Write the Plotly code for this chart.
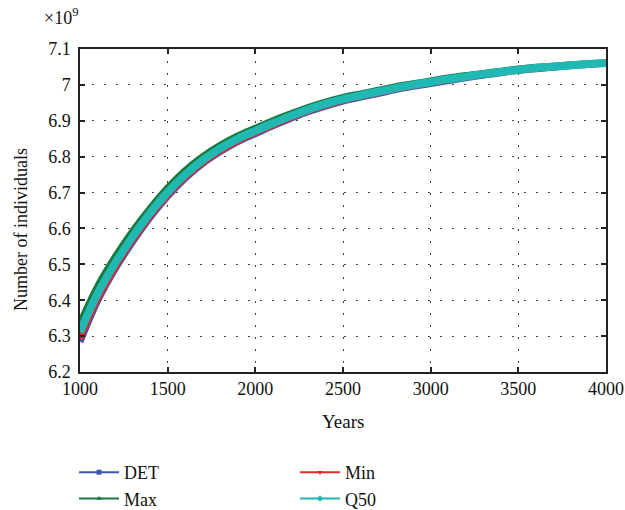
import plotly.graph_objects as go

# Years on the horizontal axis
years = [1000, 1100, 1200, 1300, 1400, 1500, 1600, 1700, 1800, 1900, 2000,
         2100, 2200, 2300, 2400, 2500, 2600, 2700, 2800, 2900, 3000,
         3100, 3200, 3300, 3400, 3500, 3600, 3700, 3800, 3900, 4000]

# Population (in units of 1e9 individuals)
det = [6.284, 6.398, 6.487, 6.563, 6.631, 6.690, 6.740, 6.781, 6.814, 6.842, 6.864,
       6.886, 6.906, 6.925, 6.941, 6.955, 6.966, 6.976, 6.987, 6.996, 7.004,
       7.012, 7.020, 7.027, 7.034, 7.040, 7.045, 7.049, 7.054, 7.057, 7.060]
pmax = [6.335, 6.438, 6.520, 6.592, 6.656, 6.713, 6.761, 6.800, 6.832, 6.858, 6.879,
        6.900, 6.919, 6.937, 6.952, 6.965, 6.975, 6.985, 6.995, 7.003, 7.011,
        7.019, 7.026, 7.032, 7.038, 7.044, 7.049, 7.052, 7.056, 7.059, 7.062]
pmin = [6.292, 6.402, 6.490, 6.566, 6.633, 6.692, 6.742, 6.782, 6.816, 6.843, 6.866,
        6.887, 6.908, 6.926, 6.942, 6.956, 6.967, 6.977, 6.988, 6.997, 7.005,
        7.013, 7.021, 7.028, 7.034, 7.040, 7.045, 7.050, 7.054, 7.057, 7.060]
q50 = [6.311, 6.418, 6.503, 6.577, 6.643, 6.701, 6.750, 6.790, 6.823, 6.850, 6.872,
       6.893, 6.913, 6.931, 6.947, 6.960, 6.971, 6.981, 6.991, 7.000, 7.008,
       7.016, 7.023, 7.030, 7.036, 7.042, 7.047, 7.051, 7.055, 7.058, 7.061]

x_ticks = [1000, 1500, 2000, 2500, 3000, 3500, 4000]
y_ticks = [6.2, 6.3, 6.4, 6.5, 6.6, 6.7, 6.8, 6.9, 7.0, 7.1]
y_ticktext = ["6.2", "6.3", "6.4", "6.5", "6.6", "6.7", "6.8", "6.9", "7", "7.1"]

FONT = "Liberation Serif"
series = [
    ("DET", det, "#3b57b0", "square", 7, "legend"),
    ("Max", pmax, "#167a3c", "triangle-up", 7, "legend"),
    ("Min", pmin, "#e8262c", "triangle-down", 6, "legend2"),
    ("Q50", q50, "#20b8b2", "diamond", 8, "legend2"),
]

fig = go.Figure()
for name, vals, color, sym, w, leg in series:
    # thick curve in the axes
    fig.add_trace(go.Scatter(x=years, y=vals, mode="lines", name=name,
                             line=dict(color=color, width=w, shape="spline", smoothing=1.0),
                             showlegend=False))
for name, vals, color, sym, w, leg in series:
    # thin legend sample with its marker
    fig.add_trace(go.Scatter(x=[None], y=[None], mode="lines+markers", name=name,
                             line=dict(color=color, width=2),
                             marker=dict(symbol=sym, size=5, color=color),
                             legend=leg))

axis_common = dict(
    showline=True, linecolor="#222", linewidth=1.5, mirror="ticks",
    ticks="inside", ticklen=5, tickcolor="#222", tickwidth=1.5,
    showgrid=True, gridcolor="#444", gridwidth=1, griddash="2px,10px",
    zeroline=False, automargin=False,
    tickfont=dict(family=FONT, size=18, color="#111"),
)

fig.update_xaxes(range=[1000, 4000], tickvals=x_ticks, **axis_common)
fig.update_yaxes(range=[6.2, 7.1], tickvals=y_ticks, ticktext=y_ticktext,
                 ticklabelstandoff=4, **axis_common)

# plot area: 80..606 px wide, 49..372 px tall
PW, PH = 526.0, 323.0
leg_font = dict(family=FONT, size=18, color="#111")
leg_common = dict(xanchor="left", yanchor="top", font=leg_font, itemwidth=40,
                  bgcolor="rgba(0,0,0,0)", tracegroupgap=0)
fig.update_layout(
    width=625, height=510,
    margin=dict(l=80, r=19, t=49, b=138, autoexpand=False),
    plot_bgcolor="white", paper_bgcolor="white",
    legend=dict(x=(74 - 80) / PW, y=(372 - 454) / PH, **leg_common),
    legend2=dict(x=(295 - 80) / PW, y=(372 - 454) / PH, **leg_common),
    annotations=[
        dict(text="×10<sup>9</sup>", xref="paper", yref="paper", x=-0.072, y=1.06,
             xanchor="left", yanchor="bottom", showarrow=False,
             font=dict(family=FONT, size=18, color="#111")),
        dict(text="Number of individuals", xref="paper", yref="paper", x=-0.112, y=0.44,
             xanchor="center", yanchor="middle", textangle=-90, showarrow=False,
             font=dict(family=FONT, size=18, color="#111")),
        dict(text="Years", xref="paper", yref="paper", x=0.5, y=-0.153,
             xanchor="center", yanchor="middle", showarrow=False,
             font=dict(family=FONT, size=19, color="#111")),
    ],
)

fig.write_html("out.html")
